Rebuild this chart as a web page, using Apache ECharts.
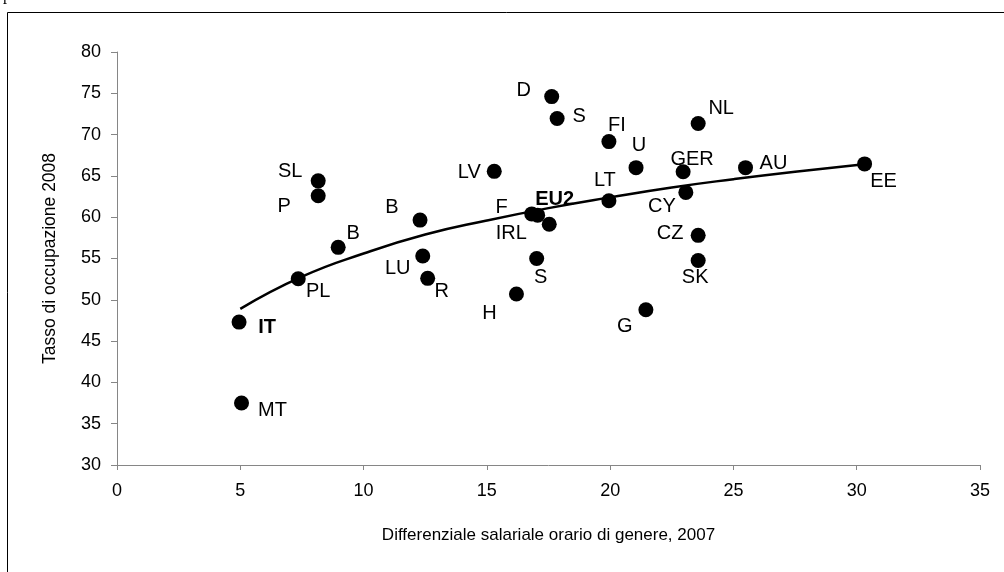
<!DOCTYPE html>
<html>
<head>
<meta charset="utf-8">
<script src="https://cdn.jsdelivr.net/npm/echarts@6/dist/echarts.min.js"></script>
<style>
html,body{margin:0;padding:0;background:#fff;}
#c{width:1004px;height:572px;}
</style>
</head>
<body>
<div id="c"></div>
<script>
// Data
var countries = ['IT','MT','PL','B','SL','P','B','LU','R','LV','H','F','EU2','IRL','D','S','S','LT','FI','U','GER','CY','NL','CZ','SK','AU','EE','G'];
var wageGap   = [4.95,5.05,7.35,8.97,8.16,8.16,12.29,12.4,12.6,15.3,16.2,16.82,17.06,17.53,17.63,17.85,17.02,19.95,19.95,21.05,22.96,23.07,23.57,23.57,23.57,25.49,30.32,21.45];
var employment= [47.3,37.5,52.55,56.35,64.4,62.6,59.65,55.3,52.6,65.55,50.7,60.4,60.25,59.15,74.6,71.95,55.0,62.0,69.15,66.0,65.5,63.0,71.35,57.8,54.75,66.0,66.45,48.8];
// Trend curve points
var trendX = [5.0,7.5,10,12.5,15,17.5,20,22.5,25,27.5,30.3];
var trendY = [48.9,52.8,55.6,57.9,59.6,61.1,62.4,63.6,64.6,65.5,66.4];
var xTicks = [0,5,10,15,20,25,30,35];
var yTicks = [30,35,40,45,50,55,60,65,70,75,80];
var xTitle = 'Differenziale salariale orario di genere, 2007';
var yTitle = 'Tasso di occupazione 2008';

// label layout (offset from point centre), by index
var labelOffsets = [[28,5],[31,7],[20,13],[15,-14],[-28,-9],[-34,11],[-28,-13],[-25,12],[14,13],[-25,1],[-27,19],[-30,-6],[17,-16],[-38,9],[-28,-6],[22,-2],[4,19],[-4,-20],[8,-16],[3,-22],[9,-12],[-24,14],[23,-15],[-28,-2],[-3,17],[28,-4],[19,18],[-21,17]];
var boldLabels = {'IT':1,'EU2':1};

var FONT = '"Liberation Sans", Arial, sans-serif';
var pts = countries.map(function(n,i){
  return {
    name: n,
    value: [wageGap[i], employment[i]],
    label: {
      show: true, position: 'inside', offset: labelOffsets[i],
      formatter: n, color: '#000', fontSize: 20, fontFamily: FONT,
      fontWeight: boldLabels[n] ? 'bold' : 'normal'
    }
  };
});
var trend = trendX.map(function(x,i){ return [x, trendY[i]]; });

var chart = echarts.init(document.getElementById('c'), null, {renderer:'canvas'});
chart.setOption({
  backgroundColor: '#fff',
  animation: false,
  graphic: [
    {type:'rect', shape:{x:7.5,y:12.5,width:1100,height:700}, style:{fill:'none', stroke:'#000', lineWidth:1}, silent:true},
    {type:'text', left:3, top:-12, style:{text:'p', font:'16px "Liberation Serif", serif', fill:'#000'}, silent:true}
  ],
  grid: {left:117, right:24, top:52, bottom:107, containLabel:false},
  xAxis: {
    type:'value', min:0, max:35, interval:5,
    name: xTitle, nameLocation:'middle', nameGap:62,
    nameTextStyle:{fontSize:17, fontFamily:FONT, color:'#000'},
    axisLine:{show:true, lineStyle:{color:'#868686', width:1}},
    axisTick:{show:true, inside:false, length:5, lineStyle:{color:'#868686'}},
    axisLabel:{fontSize:18, fontFamily:FONT, color:'#000', margin:17,
      formatter:function(v){ return xTicks.indexOf(v)>=0 ? String(v) : ''; }},
    splitLine:{show:false}
  },
  yAxis: {
    type:'value', min:30, max:80, interval:5,
    name: yTitle, nameLocation:'middle', nameGap:58, nameRotate:90,
    nameTextStyle:{fontSize:17.5, fontFamily:FONT, color:'#000'},
    axisLine:{show:true, lineStyle:{color:'#868686', width:1}},
    axisTick:{show:true, inside:false, length:6, lineStyle:{color:'#868686'}},
    axisLabel:{fontSize:18, fontFamily:FONT, color:'#000', margin:16,
      formatter:function(v){ return yTicks.indexOf(v)>=0 ? String(v) : ''; }},
    splitLine:{show:false}
  },
  series: [
    {type:'line', data: trend, smooth:true, showSymbol:false, symbol:'none',
     lineStyle:{color:'#000', width:2.5}, z:2, silent:true},
    {type:'scatter', data: pts, symbol:'circle', symbolSize:15,
     itemStyle:{color:'#000', opacity:1}, z:3}
  ]
});
</script>
</body>
</html>
